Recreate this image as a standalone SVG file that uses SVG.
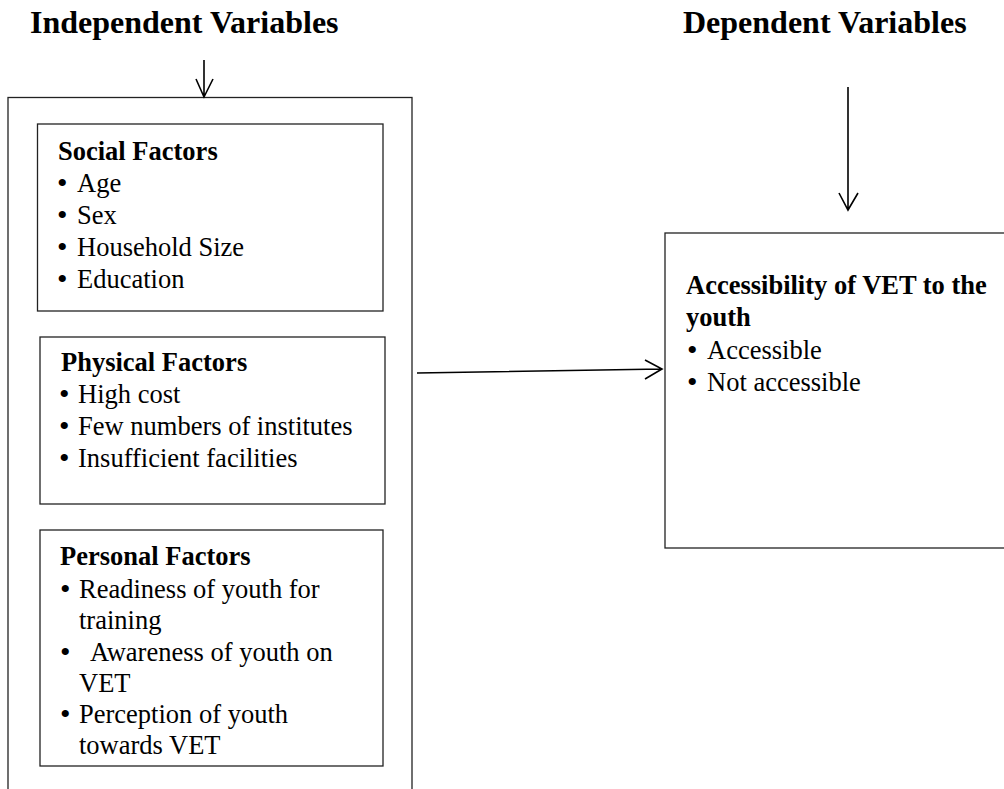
<svg xmlns="http://www.w3.org/2000/svg" width="1004" height="789" viewBox="0 0 1004 789">
<style>
.box{fill:#fff;stroke:#222;stroke-width:1.3}
.t{font-family:"Liberation Serif","Times New Roman",serif;font-size:26.5px;fill:#000}
.b{font-weight:bold}
.u{font-size:30px}
.title{font-family:"Liberation Serif","Times New Roman",serif;font-size:32px;font-weight:bold;fill:#000}
.con{fill:none;stroke:#000;stroke-width:1.6}
</style>
<rect width="1004" height="789" fill="#fff"/>
<text class="title" x="30" y="33">Independent Variables</text>
<text class="title" x="683" y="33">Dependent Variables</text>
<g id="outer"><rect class="box" x="8" y="97.5" width="404" height="720"/></g>
<g id="social">
<rect class="box" x="37.5" y="124" width="345.5" height="187"/>
<text class="t b" x="58" y="160">Social Factors</text>
<text class="t" x="57" y="192"><tspan class="u" dy="1">•</tspan><tspan x="77" dy="-1">Age</tspan></text>
<text class="t" x="57" y="224"><tspan class="u" dy="1">•</tspan><tspan x="77" dy="-1">Sex</tspan></text>
<text class="t" x="57" y="256"><tspan class="u" dy="1">•</tspan><tspan x="77" dy="-1">Household Size</tspan></text>
<text class="t" x="57" y="288"><tspan class="u" dy="1">•</tspan><tspan x="77" dy="-1">Education</tspan></text>
</g>
<g id="physical">
<rect class="box" x="40" y="337" width="345" height="167"/>
<text class="t b" x="61" y="371">Physical Factors</text>
<text class="t" x="59" y="403"><tspan class="u" dy="1">•</tspan><tspan x="78" dy="-1">High cost</tspan></text>
<text class="t" x="59" y="435"><tspan class="u" dy="1">•</tspan><tspan x="78" dy="-1">Few numbers of institutes</tspan></text>
<text class="t" x="59" y="467"><tspan class="u" dy="1">•</tspan><tspan x="78" dy="-1">Insufficient facilities</tspan></text>
</g>
<g id="personal">
<rect class="box" x="40" y="530" width="343" height="236"/>
<text class="t b" x="60" y="565">Personal Factors</text>
<text class="t" x="60" y="598"><tspan class="u" dy="1">•</tspan><tspan x="79" dy="-1">Readiness of youth for</tspan></text>
<text class="t" x="79" y="629">training</text>
<text class="t" x="60" y="661"><tspan class="u" dy="1">•</tspan><tspan x="90" dy="-1">Awareness of youth on</tspan></text>
<text class="t" x="79" y="692">VET</text>
<text class="t" x="60" y="723"><tspan class="u" dy="1">•</tspan><tspan x="79" dy="-1">Perception of youth</tspan></text>
<text class="t" x="79" y="754">towards VET</text>
</g>
<g id="dependent">
<rect class="box" x="665" y="233" width="345" height="315"/>
<text class="t b" x="686" y="294">Accessibility of VET to the</text>
<text class="t b" x="686" y="326">youth</text>
<text class="t" x="687" y="359"><tspan class="u" dy="1">•</tspan><tspan x="707" dy="-1">Accessible</tspan></text>
<text class="t" x="687" y="391"><tspan class="u" dy="1">•</tspan><tspan x="707" dy="-1">Not accessible</tspan></text>
</g>
<g id="connectors">
<path class="con" d="M204 60V97M196 79L204 97L213 79"/>
<path class="con" d="M848 87V210M839 193L848 210L858 193"/>
<path class="con" d="M417 373L662 369M645 360L662 369L645 379"/>
</g>
</svg>
